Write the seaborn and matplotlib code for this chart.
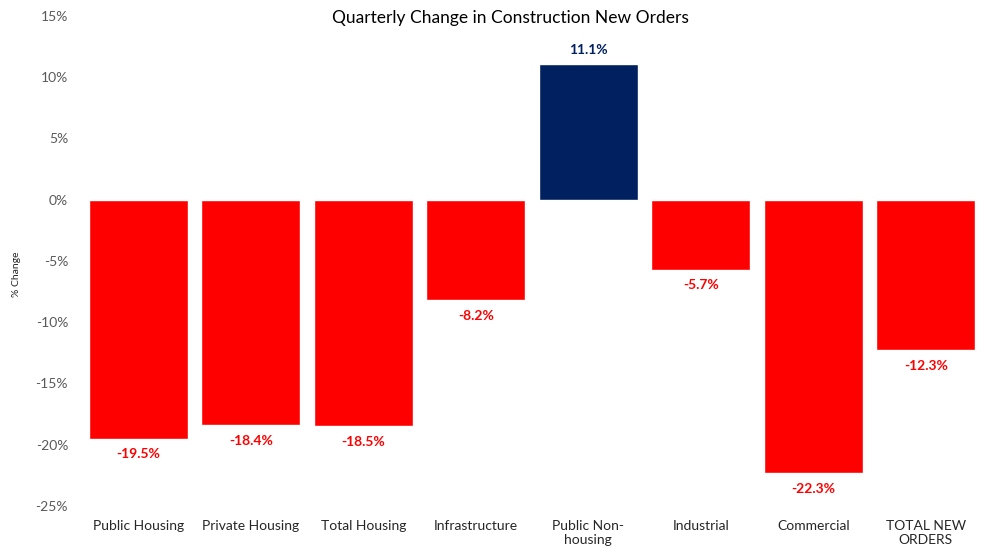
import pandas as pd
import seaborn as sns
import matplotlib.pyplot as plt
from matplotlib.ticker import FuncFormatter

categories = ["Public Housing", "Private Housing", "Total Housing", "Infrastructure",
              "Public Non-\nhousing", "Industrial", "Commercial", "TOTAL NEW\nORDERS"]
changes = [-19.5, -18.4, -18.5, -8.2, 11.1, -5.7, -22.3, -12.3]

RED = "#FF0000"
NAVY = "#002060"

df = pd.DataFrame({"category": categories, "change": changes})
df["sign"] = ["pos" if v > 0 else "neg" for v in changes]

sns.set_style("white")
plt.rcParams["font.family"] = ["Lato", "DejaVu Sans"]

fig = plt.figure(figsize=(9.82, 5.48), dpi=100)
ax = fig.add_axes([0.0835, 0.0766, 0.9165, 0.8944])

sns.barplot(data=df, x="category", y="change", hue="sign",
            palette={"neg": RED, "pos": NAVY}, width=0.88, dodge=False,
            saturation=1, legend=False, ax=ax)

ax.set_ylim(-25, 15)
ax.set_xlim(-0.5, 7.5)
ax.set_yticks(range(-25, 16, 5))
ax.yaxis.set_major_formatter(FuncFormatter(lambda v, p: f"{v:.0f}%"))
ax.tick_params(axis="y", labelsize=10, colors="#595959", length=0, pad=10)
ax.tick_params(axis="x", labelsize=10, colors="#262626", length=0, pad=10)
ax.set_xlabel("")
ax.set_ylabel("")
fig.text(0.017, 0.5, "% Change", rotation=90, ha="center", va="center",
         fontsize=7.5, color="#262626")
for s in ax.spines.values():
    s.set_visible(False)

for i, v in enumerate(changes):
    col = NAVY if v > 0 else RED
    off = 0.6 if v > 0 else -0.8
    ax.text(i, v + off, f"{v:.1f}%", ha="center", va="bottom" if v > 0 else "top",
            color=col, fontsize=10, fontweight="bold")

fig.text(0.52, 0.968, "Quarterly Change in Construction New Orders", ha="center", va="center",
         fontsize=12.5, color="#000000")

fig.savefig("out.png", dpi=100)
